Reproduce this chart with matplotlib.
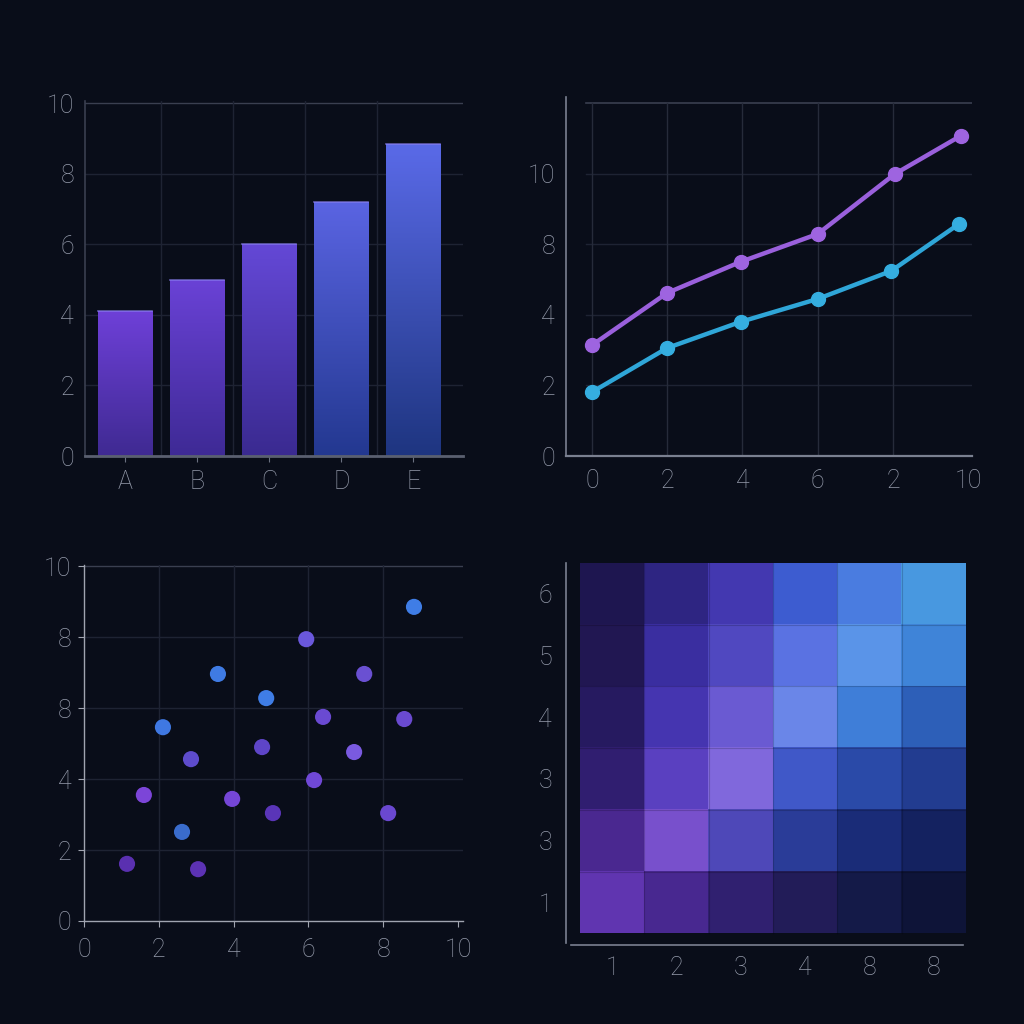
import numpy as np
import matplotlib
matplotlib.use("Agg")
import matplotlib.pyplot as plt
from matplotlib.colors import LinearSegmentedColormap, to_rgb

# ---------------- data ----------------
bar_categories = ['A', 'B', 'C', 'D', 'E']
bar_values = [4.1, 5.0, 6.0, 7.2, 8.85]
bar_yticks = [0, 2, 4, 6, 8, 10]
bar_yticklabels = ['0', '2', '4', '6', '8', '10']

line_x_purple = [0, 2, 3.95, 6, 8.05, 9.8]
line_y_purple = [3.14, 4.62, 5.5, 6.29, 7.99, 9.07]
line_x_cyan = [0, 2, 3.95, 6, 7.95, 9.75]
line_y_cyan = [1.81, 3.06, 3.8, 4.45, 5.24, 6.57]
line_xticks = [0, 2, 4, 6, 8, 10]
line_xticklabels = ['0', '2', '4', '6', '2', '10']
line_yticks = [0, 2, 4, 6, 8]
line_yticklabels = ['0', '2', '4', '8', '10']

scatter_x = [8.82, 5.94, 7.49, 3.58, 4.87, 6.39, 8.56, 2.11, 2.86, 4.76,
             7.22, 6.15, 1.60, 3.96, 5.05, 8.13, 2.62, 1.15, 3.05]
scatter_y = [8.85, 7.94, 6.96, 6.96, 6.28, 5.75, 5.69, 5.46, 4.56, 4.90,
             4.76, 3.97, 3.55, 3.44, 3.04, 3.04, 2.51, 1.61, 1.46]
scatter_colors = ['#3f7de6', '#6a58dc', '#6a50d2', '#3f7be4', '#3f7de6', '#6a4ad2',
                  '#6a4ad0', '#3f78e2', '#5e4ccc', '#5e45c8', '#7a5ae0', '#7048d6',
                  '#7c45d8', '#7546d6', '#5a35b8', '#6a48d0', '#3a6ccc', '#5a30b0',
                  '#5c32b4']
scatter_ticks = [0, 2, 4, 6, 8, 10]
scatter_xticklabels = ['0', '2', '4', '6', '8', '10']
scatter_yticklabels = ['0', '2', '4', '8', '8', '10']

heat_xlabels = ['1', '2', '3', '4', '8', '8']
heat_ylabels = ['1', '3', '3', '4', '5', '6']  # bottom to top
# cell colours, rows listed top to bottom
heat_colors = [
    ['#1e1650', '#2e2582', '#4338b0', '#3d5cd0', '#4a7ce0', '#4898e0'],
    ['#211752', '#3a2ea0', '#5048c0', '#5a72e2', '#5a94e8', '#3f84d8'],
    ['#261a60', '#4535b0', '#6a5ad2', '#6a86e8', '#3f7ed8', '#2d5fb8'],
    ['#301e70', '#5a40c0', '#8068dc', '#4058c8', '#2a4aa8', '#223c90'],
    ['#4a2890', '#7850cc', '#4e48b8', '#2a3c98', '#1a2c78', '#142260'],
    ['#6035b0', '#482890', '#302070', '#221c58', '#141a48', '#0e1438'],
]

# ---------------- style ----------------
BG = '#090d19'
TXT = '#959bab'
GRID = '#1e2333'
SPINE = '#6a7080'
FS = 18

plt.rcParams['font.family'] = ['Roboto', 'DejaVu Sans']
plt.rcParams['font.weight'] = 'light'

fig = plt.figure(figsize=(10.24, 10.24), dpi=100, facecolor=BG)


def add_ax(left, top, right, bottom):
    W = 1024.0
    return fig.add_axes([left / W, 1 - bottom / W, (right - left) / W, (bottom - top) / W])


def base_style(ax):
    ax.set_facecolor('none')
    for s in ['top', 'right']:
        ax.spines[s].set_visible(False)
    for s in ['left', 'bottom']:
        ax.spines[s].set_color(SPINE)
        ax.spines[s].set_linewidth(1.2)
    ax.tick_params(colors=TXT, labelsize=FS, length=0, pad=7)


# ---------- top-left: bar chart ----------
ax1 = add_ax(85, 101, 463, 456)
xs = np.arange(len(bar_values))
base_style(ax1)
ax1.set_yticks(bar_yticks)
ax1.set_yticklabels(bar_yticklabels)
ax1.set_xticks(xs)
ax1.set_xticklabels(bar_categories)
ax1.tick_params(axis='x', length=4, color=SPINE, pad=6)
ax1.tick_params(axis='y', pad=8)
for y in bar_yticks[1:]:
    ax1.axhline(y, color=GRID if y < 10 else '#3a3f50', lw=1.0, zorder=0)
for xg in [0.5, 1.5, 2.5, 3.5]:
    ax1.axvline(xg, color=GRID, lw=1.0, zorder=0)
ax1.spines['left'].set_color('#3a3f50')
ax1.spines['bottom'].set_color('#5a6070')
ax1.spines['bottom'].set_linewidth(2)

bar_top = ['#6e40d8', '#6a42d6', '#6448d6', '#5a64e2', '#5a6ae8']
bar_bot = ['#3f2a92', '#3e2a95', '#3a2a90', '#233890', '#1e3580']
bars = ax1.bar(xs, bar_values, width=0.75, color='none', edgecolor='none', zorder=2)
grad = np.linspace(0, 1, 256).reshape(-1, 1)
for b, ct, cb in zip(bars, bar_top, bar_bot):
    x0 = b.get_x(); w = b.get_width(); h = b.get_height()
    cm = LinearSegmentedColormap.from_list('g', [cb, ct])
    im = ax1.imshow(grad, cmap=cm, origin='lower', aspect='auto',
                    extent=(x0, x0 + w, 0, h), zorder=2)
    im.set_clip_path(b)
    ax1.plot([x0, x0 + w], [h, h], color='#8a80f0', lw=1.2, alpha=0.7, zorder=3)
ax1.set_xlim(-0.556, 4.69)
ax1.set_ylim(0, 10.07)

# ---------- top-right: line chart ----------
ax2 = add_ax(566, 97, 972, 456)
ax2.set_xlim(-0.69, 10.1)
ax2.set_ylim(0, 10.17)
base_style(ax2)
ax2.spines['left'].set_color('#7a8090')
ax2.spines['bottom'].set_color('#7a8090')
ax2.spines['bottom'].set_linewidth(1.6)
ax2.set_xticks(line_xticks)
ax2.set_xticklabels(line_xticklabels)
ax2.set_yticks(line_yticks)
ax2.set_yticklabels(line_yticklabels)
ax2.tick_params(axis='x', pad=9)
ax2.tick_params(axis='y', pad=8)
for y in [2, 4, 6, 8]:
    ax2.axhline(y, xmin=0.05, color=GRID, lw=1.0, zorder=0)
ax2.axhline(10, xmin=0.05, color='#3a3f50', lw=1.2, zorder=0)
for xg in [0, 2, 4, 6, 8]:
    ax2.axvline(xg, ymax=10 / 10.17, color='#262b3a', lw=1.0, zorder=0)
ax2.plot(line_x_purple, line_y_purple, color='#9a60dc', lw=3.2, marker='o',
         markersize=10, markerfacecolor='#9e64e0', markeredgecolor='#9e64e0', zorder=3,
         solid_capstyle='round')
ax2.plot(line_x_cyan, line_y_cyan, color='#2fa6d8', lw=3.2, marker='o',
         markersize=10, markerfacecolor='#35aee0', markeredgecolor='#35aee0', zorder=3,
         solid_capstyle='round')

# ---------- bottom-left: scatter ----------
ax3 = add_ax(84, 565, 463, 921)
ax3.set_xlim(0, 10.13)
ax3.set_ylim(0, 10.03)
base_style(ax3)
ax3.spines['left'].set_color('#a0a4b0')
ax3.spines['bottom'].set_color('#a0a4b0')
ax3.spines['left'].set_linewidth(1.0)
ax3.spines['bottom'].set_linewidth(1.0)
ax3.set_xticks(scatter_ticks)
ax3.set_xticklabels(scatter_xticklabels)
ax3.set_yticks(scatter_ticks)
ax3.set_yticklabels(scatter_yticklabels)
ax3.tick_params(axis='both', length=4, color='#a0a4b0')
ax3.tick_params(axis='x', pad=8)
ax3.tick_params(axis='y', pad=5)
for y in [2, 4, 6, 8]:
    ax3.axhline(y, color=GRID, lw=1.0, zorder=0)
ax3.axhline(10, color='#3a3f50', lw=1.0, zorder=0)
for xg in [2, 4, 6, 8]:
    ax3.axvline(xg, color=GRID, lw=1.0, zorder=0)
ax3.scatter(scatter_x, scatter_y, s=135, c=scatter_colors, edgecolors='none', zorder=3)

# ---------- bottom-right: heatmap ----------
ax4 = add_ax(566, 563, 966, 945)
rgb = np.array([[to_rgb(c) for c in row] for row in heat_colors])
ax4.imshow(rgb, extent=(0, 6, 0, 6), origin='upper', aspect='auto', interpolation='nearest', zorder=2)
ax4.set_xlim(-0.22, 6)
ax4.set_ylim(-0.19, 6)
base_style(ax4)
ax4.spines['left'].set_color('#7a8090')
ax4.spines['bottom'].set_color('#7a8090')
ax4.spines['left'].set_bounds(-0.16, 6)
ax4.spines['bottom'].set_bounds(-0.15, 5.95)
ax4.set_xticks(np.arange(6) + 0.5)
ax4.set_xticklabels(heat_xlabels)
ax4.set_yticks(np.arange(6) + 0.5)
ax4.set_yticklabels(heat_ylabels)
ax4.tick_params(axis='x', pad=8)
ax4.tick_params(axis='y', pad=10)
for k in range(1, 6):
    ax4.axvline(k, ymin=0.19 / 6.19, color='#000000', lw=0.8, alpha=0.18, zorder=3)
    ax4.axhline(k, xmin=0.22 / 6.22, color='#000000', lw=0.8, alpha=0.18, zorder=3)

fig.savefig('out.png', dpi=100, facecolor=BG)
